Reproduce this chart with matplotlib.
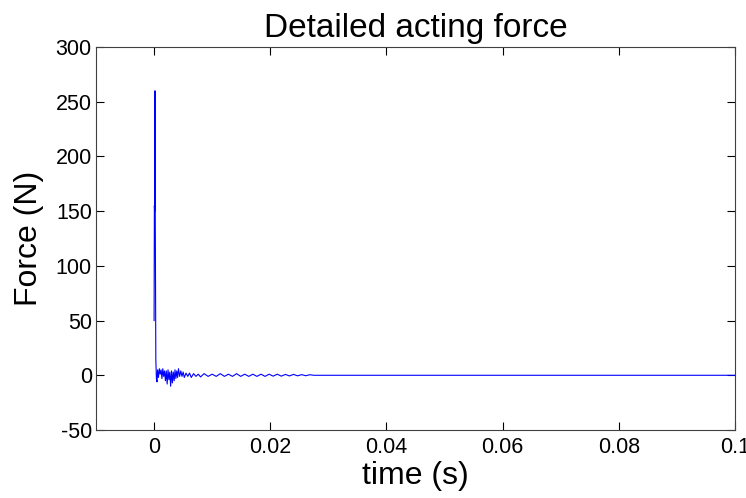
import matplotlib
matplotlib.use('Agg')
import matplotlib.pyplot as plt
import numpy as np

plt.rcParams['font.family'] = ['Liberation Sans', 'DejaVu Sans']
plt.rcParams['axes.unicode_minus'] = False

# time in ms, force in N
t_ms = [0.0, 0.05, 0.10, 0.15, 0.20, 0.30, 0.40, 0.50, 0.60, 0.75, 0.90, 1.05, 1.20,
        1.35, 1.50, 1.65, 1.80, 1.95, 2.10, 2.25, 2.40, 2.55, 2.70, 2.85, 3.00,
        3.15, 3.30, 3.45, 3.60, 3.75, 3.90, 4.05, 4.20, 4.40, 4.60, 4.80, 5.00,
        5.20, 5.50, 5.80, 6.10, 6.40, 6.80, 7.20, 7.60, 8.00, 8.60, 9.30, 10.0,
        10.7, 11.4, 12.1, 12.8, 13.5, 14.2, 14.9, 15.6, 16.3, 17.0, 17.7, 18.4,
        19.1, 19.8, 20.5, 21.2, 21.9, 22.6, 23.3, 24.0, 24.7, 25.4, 26.1, 26.8,
        27.5, 100.0]
force = [50, 155, 150, 260, 145, 14, -3, -6, 5, -2, 6, 1, 5,
         -3, 6, -1, 4, -5, 4, -8, 5, -4, 3, -10, 4,
         -7, 3, -5, 5, -3, 4, -2, 6, -1, 4, -1, 3,
         -2, 2, -1, 2, -2, 1.5, -1, 1, -1.5, 1.5, -1, 1,
         -1, 1.5, -1, 1, -1, 1.5, -1, 1, -1, 1, -1, 1,
         -1, 1, -0.8, 1, -0.8, 0.8, -0.6, 0.8, -0.5, 0.6, -0.4, 0.5,
         0, 0]

t = np.array(t_ms) / 1000.0

fig = plt.figure(figsize=(7.46, 4.98), dpi=100)
ax = fig.add_axes([96/746, 1 - 430/498, (735-96)/746, (430-47)/498])
ax.plot(t, force, color='#0000ff', linewidth=0.8)

ax.set_xlim(-0.01, 0.1)
ax.set_ylim(-50, 300)
ax.set_xticks([0, 0.02, 0.04, 0.06, 0.08, 0.1])
ax.set_xticklabels(['0', '0.02', '0.04', '0.06', '0.08', '0.1'])
ax.set_yticks(np.arange(-50, 301, 50))
ax.tick_params(direction='in', top=True, right=True, length=6, labelsize=15.5, colors='black')
ax.tick_params(axis='x', pad=5)
ax.tick_params(axis='y', pad=3)
for s in ax.spines.values():
    s.set_color('#404040')
    s.set_linewidth(0.8)

ax.set_title('Detailed acting force', fontsize=24, pad=7)
ax.set_xlabel('time (s)', fontsize=23, labelpad=2)
ax.set_ylabel('Force (N)', fontsize=23, labelpad=8)

fig.savefig('out.png', dpi=100)
